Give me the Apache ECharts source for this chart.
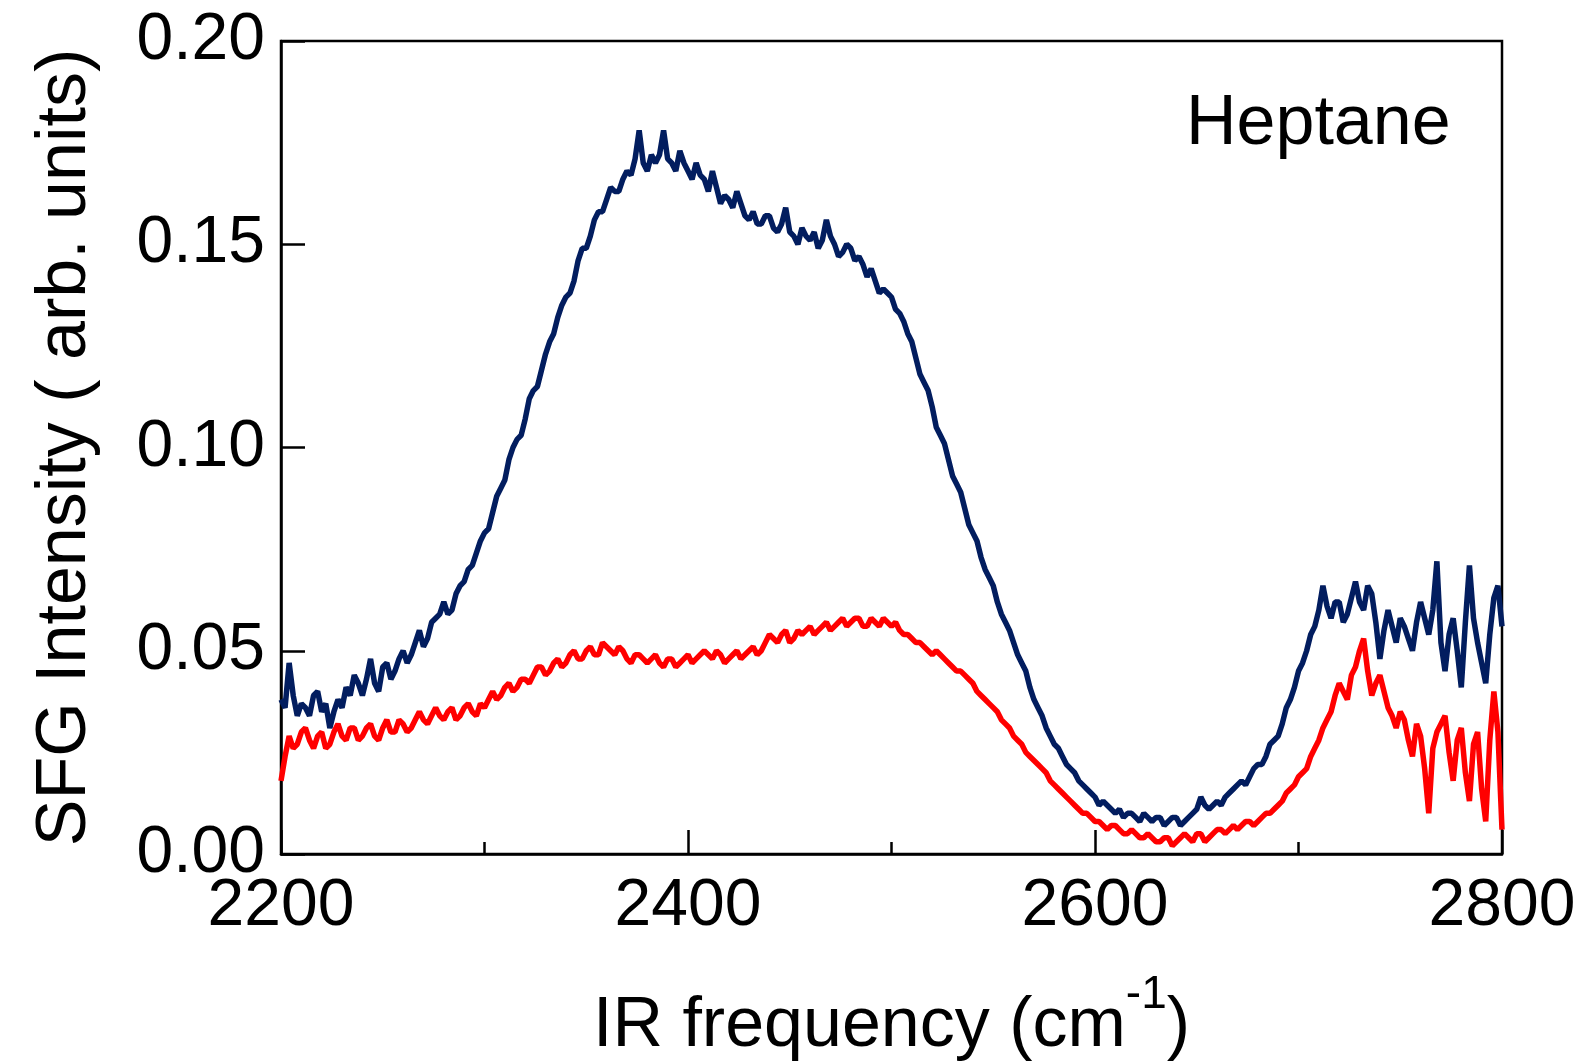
<!DOCTYPE html>
<html>
<head>
<meta charset="utf-8">
<script src="https://cdn.jsdelivr.net/npm/echarts@6/dist/echarts.min.js"></script>
<style>
html,body{margin:0;padding:0;background:#fff;}
#chart{width:1589px;height:1063px;}
</style>
</head>
<body>
<div id="chart"></div>
<script>
// IR frequency sampling grid: 2200 .. 2800 cm^-1, every 2 cm^-1
const freqStart = 2200, freqStep = 2;

// Navy trace (upper)
const navyValues = [
.038,.036,.047,.039,.034,.037,.036,.034,.039,.040,.035,.037,.031,.035,.038,.036,.041,.039,.044,.042,
.039,.043,.048,.042,.040,.046,.047,.043,.045,.048,.050,.047,.049,.052,.055,.051,.053,.057,.058,.059,
.062,.059,.060,.064,.066,.067,.070,.071,.074,.077,.079,.080,.084,.088,.090,.092,.097,.100,.102,.103,
.107,.112,.114,.115,.119,.123,.126,.128,.132,.135,.137,.138,.141,.146,.149,.149,.152,.156,.158,.158,
.161,.164,.163,.163,.166,.168,.167,.171,.178,.170,.168,.172,.170,.172,.178,.171,.170,.168,.173,.170,
.168,.166,.170,.167,.166,.163,.168,.164,.160,.162,.161,.159,.163,.160,.157,.156,.158,.155,.155,.157,
.157,.154,.153,.155,.159,.153,.152,.150,.154,.152,.151,.153,.149,.151,.156,.152,.150,.147,.148,.150,
.149,.146,.147,.145,.142,.144,.141,.138,.139,.138,.137,.134,.133,.131,.128,.126,.122,.118,.116,.114,
.110,.105,.103,.101,.097,.093,.091,.089,.085,.081,.079,.077,.073,.070,.068,.066,.062,.059,.057,.055,
.052,.049,.047,.045,.041,.038,.036,.034,.031,.029,.027,.026,.024,.022,.021,.020,.018,.017,.016,.015,
.014,.012,.013,.012,.011,.010,.011,.009,.010,.010,.009,.008,.010,.009,.008,.009,.009,.007,.008,.009,
.009,.007,.008,.009,.010,.011,.014,.012,.011,.012,.013,.012,.014,.015,.016,.017,.018,.017,.019,.021,
.022,.022,.024,.027,.028,.029,.032,.036,.038,.041,.045,.047,.050,.054,.056,.060,.066,.061,.058,.062,
.062,.057,.059,.063,.067,.062,.060,.066,.064,.057,.048,.055,.060,.056,.052,.058,.056,.053,.050,.057,
.062,.058,.054,.060,.072,.052,.045,.054,.058,.050,.041,.057,.071,.058,.052,.047,.042,.054,.063,.066,.056];

// Red trace (lower)
const redValues = [
.018,.024,.029,.026,.027,.030,.031,.028,.026,.029,.030,.026,.027,.030,.032,.029,.028,.031,.031,.028,
.029,.031,.032,.029,.028,.031,.033,.030,.030,.033,.032,.030,.031,.033,.035,.033,.032,.034,.036,.034,
.033,.035,.036,.033,.034,.036,.037,.035,.034,.037,.036,.038,.040,.038,.039,.041,.042,.040,.041,.043,
.043,.042,.044,.046,.046,.044,.045,.047,.048,.046,.047,.049,.050,.048,.048,.050,.051,.049,.049,.052,
.051,.050,.049,.051,.050,.048,.047,.049,.049,.048,.047,.048,.049,.047,.046,.048,.048,.046,.047,.048,
.049,.047,.048,.049,.050,.049,.048,.050,.049,.047,.048,.049,.050,.048,.049,.050,.051,.049,.050,.052,
.054,.053,.052,.054,.055,.052,.053,.055,.054,.055,.056,.054,.055,.056,.057,.055,.056,.057,.058,.056,
.057,.058,.058,.056,.056,.058,.057,.056,.058,.057,.056,.057,.055,.054,.054,.053,.052,.052,.051,.050,
.049,.050,.049,.048,.047,.046,.045,.045,.044,.043,.042,.040,.039,.038,.037,.036,.035,.033,.032,.031,
.029,.028,.027,.025,.024,.023,.022,.021,.020,.018,.017,.016,.015,.014,.013,.012,.011,.010,.010,.009,
.008,.008,.007,.006,.007,.007,.006,.005,.005,.006,.005,.004,.004,.005,.004,.003,.003,.004,.004,.002,
.003,.004,.005,.004,.003,.005,.005,.003,.004,.005,.006,.006,.005,.006,.007,.006,.007,.008,.008,.007,
.008,.009,.010,.010,.011,.012,.013,.015,.016,.017,.019,.020,.021,.024,.026,.028,.031,.033,.035,.039,
.042,.040,.038,.044,.046,.050,.053,.045,.039,.042,.044,.040,.036,.034,.031,.035,.033,.028,.024,.032,
.029,.021,.010,.026,.030,.032,.034,.025,.018,.028,.031,.020,.013,.027,.030,.016,.008,.028,.040,.030,.006];

const xTicks = [2200, 2400, 2600, 2800];
const yTicks = ['0.00', '0.05', '0.10', '0.15', '0.20'];

const FONT = "'Liberation Sans', Arial, Helvetica, sans-serif";
const chart = echarts.init(document.getElementById('chart'), null, {renderer: 'canvas'});

const navyData = navyValues.map((v, i) => [freqStart + freqStep * i, v]);
const redData = redValues.map((v, i) => [freqStart + freqStep * i, v]);

chart.setOption({
  animation: false,
  backgroundColor: '#ffffff',
  grid: {
    left: 281, right: 87, top: 41, bottom: 209,
    show: true, borderColor: '#000', borderWidth: 2.5,
    containLabel: false, outerBoundsMode: 'none'
  },
  xAxis: {
    type: 'value', min: 2200, max: 2800, interval: 200,
    name: '{a|IR frequency (cm}{sup|-1}{a|)}',
    nameLocation: 'middle', nameGap: 118,
    nameTextStyle: {
      rich: {
        a: {fontFamily: FONT, fontSize: 70, color: '#000', lineHeight: 110},
        sup: {fontFamily: FONT, fontSize: 46, color: '#000', lineHeight: 46, verticalAlign: 'top'}
      }
    },
    axisLine: {show: true, onZero: false, lineStyle: {color: '#000', width: 2.5}},
    axisTick: {show: true, inside: true, length: 24, lineStyle: {color: '#000', width: 2.5}},
    minorTick: {show: true, splitNumber: 2, length: 12, lineStyle: {color: '#000', width: 2.5}},
    splitLine: {show: false},
    axisLabel: {
      fontFamily: FONT, fontSize: 66, color: '#000', margin: 20,
      showMinLabel: true, showMaxLabel: true,
      formatter: v => xTicks.includes(v) ? String(v) : ''
    }
  },
  yAxis: {
    type: 'value', min: 0, max: 0.2, interval: 0.05,
    name: 'SFG Intensity ( arb. units)',
    nameLocation: 'middle', nameGap: 180, nameRotate: 90,
    nameTextStyle: {fontFamily: FONT, fontSize: 70, color: '#000'},
    axisLine: {show: true, onZero: false, lineStyle: {color: '#000', width: 2.5}},
    axisTick: {show: true, inside: true, length: 24, lineStyle: {color: '#000', width: 2.5}},
    splitLine: {show: false},
    axisLabel: {
      fontFamily: FONT, fontSize: 66, color: '#000', margin: 16,
      showMinLabel: true, showMaxLabel: true,
      formatter: v => yTicks[Math.round(v / 0.05)]
    }
  },
  graphic: [{
    type: 'text', left: 1186, top: 90,
    style: {text: 'Heptane', fontFamily: FONT, fontSize: 70, fill: '#000'}
  }],
  series: [
    {
      type: 'line', data: navyData, showSymbol: false, symbol: 'none',
      lineStyle: {color: '#021d5f', width: 5.5}, z: 2
    },
    {
      type: 'line', data: redData, showSymbol: false, symbol: 'none',
      lineStyle: {color: '#ff0000', width: 5.5}, z: 3
    }
  ]
});
</script>
</body>
</html>
